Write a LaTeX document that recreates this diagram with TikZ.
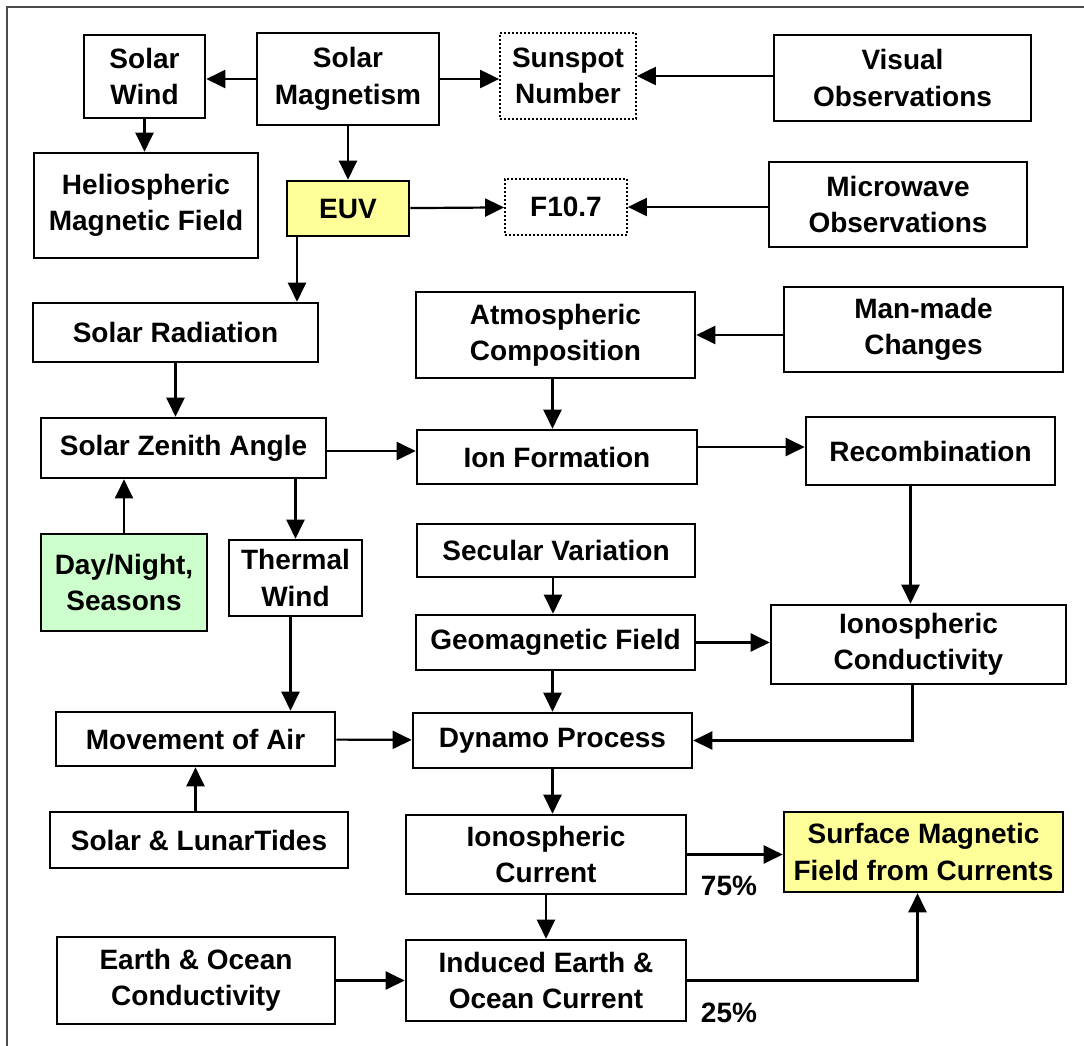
\documentclass[tikz,border=0pt]{standalone}
\usepackage{fontspec}
\setmainfont{Liberation Sans}
\usepackage{xcolor}
\usepackage{tikz}
\usetikzlibrary{arrows.meta,positioning}
\definecolor{euvyel}{HTML}{FFFF99}
\definecolor{daygrn}{HTML}{CCFFCC}

\begin{document}
\begin{tikzpicture}[x=0.5pt, y=-0.5pt, font=\fontsize{14}{18.2}\selectfont\bfseries,
  box/.style={draw, line width=1.3pt, align=center, inner sep=0pt},
  dotbox/.style={box, line width=0.9pt, dash pattern=on 0.9pt off 1.1pt},
  arr/.style={-{Triangle[length=9.5pt, width=9pt]}, line width=1.1pt}]
\useasboundingbox (0,0) rectangle (1084,1046);
\draw[gray!60!black, line width=0.8pt] (1084,7) -- (7,7) -- (7,1046);
% sun
\node[box, minimum width=60.5pt, minimum height=41.5pt] (SW) at (144.5,76.5) {Solar\\Wind};
\node[box, minimum width=91pt, minimum height=46pt] (SM) at (348,79) {Solar\\Magnetism};
\node[dotbox, minimum width=68pt, minimum height=43pt] (SN) at (568,76) {Sunspot\\Number};
\node[box, minimum width=128.5pt, minimum height=43pt] (VO) at (902.5,78) {Visual\\Observations};
\node[box, minimum width=112pt, minimum height=52.5pt] (HM) at (146,205.5) {Heliospheric\\Magnetic Field};
\node[box, fill=euvyel, minimum width=61pt, minimum height=27.5pt] (EUV) at (348,208.5) {EUV};
\node[dotbox, minimum width=61pt, minimum height=28pt] (FX) at (566,207) {F10.7};
\node[box, minimum width=129pt, minimum height=42.5pt] (MO) at (898,204.5) {Microwave\\Observations};
% atmosphere
\node[box, minimum width=142.5pt, minimum height=29.5pt] (SR) at (175.5,332.5) {Solar Radiation};
\node[box, minimum width=139.5pt, minimum height=43pt] (AC) at (555.5,335) {Atmospheric\\Composition};
\node[box, minimum width=139.5pt, minimum height=42.5pt] (MC) at (923.5,329.5) {Man-made\\Changes};
\node[box, minimum width=142.5pt, minimum height=30pt] (SZ) at (183.5,448) {Solar Zenith Angle};
\node[box, minimum width=140pt, minimum height=27pt] (IF) at (557,457) {Ion Formation};
\node[box, minimum width=124.5pt, minimum height=34pt] (RC) at (930.5,451) {Recombination};
\node[box, fill=daygrn, minimum width=83pt, minimum height=48.5pt] (DN) at (124,582.5) {Day/Night,\\Seasons};
\node[box, minimum width=66.5pt, minimum height=38pt] (TW) at (295.5,578) {Thermal\\Wind};
\node[box, minimum width=139pt, minimum height=26.5pt] (SV) at (556,550.5) {Secular Variation};
\node[box, minimum width=139.5pt, minimum height=27.5pt] (GF) at (555.5,642.5) {Geomagnetic Field};
\node[box, minimum width=147.5pt, minimum height=39.5pt] (IC) at (918.5,644.5) {Ionospheric\\Conductivity};
% currents
\node[box, minimum width=139.5pt, minimum height=27pt] (MA) at (195.5,739) {Movement of Air};
\node[box, minimum width=139.5pt, minimum height=27.5pt] (DP) at (552.5,740.5) {Dynamo Process};
\node[box, minimum width=149pt, minimum height=28pt] (ST) at (199,840) {Solar \& LunarTides};
\node[box, minimum width=140pt, minimum height=39.5pt] (IO) at (546,854.5) {Ionospheric\\Current};
\node[box, fill=euvyel, minimum width=139.5pt, minimum height=40pt] (SF) at (923.5,852) {Surface Magnetic\\Field from Currents};
\node[box, minimum width=139pt, minimum height=43.5pt] (EC) at (196,980.5) {Earth \& Ocean\\Conductivity};
\node[box, minimum width=140pt, minimum height=40.5pt] (IE) at (546,980.5) {Induced Earth \&\\Ocean Current};
\node (P75) at (729,886) {75\%};
\node (P25) at (729,1013) {25\%};
% arrows
\draw[arr] (SM.west) -- (SM.west -| SW.east);
\draw[arr] (SM.east) -- (SM.east -| SN.west);
\draw[arr] (VO.west |- SN) -- (SN);
\draw[arr] (SW) -- (SW |- HM.north);
\draw[arr] (SM) -- (EUV);
\draw[arr] (EUV) -- (FX);
\draw[arr] (MO.west |- FX) -- (FX);
\draw[arr] ([xshift=-25.5pt]EUV.south) -- ([xshift=-25.5pt]EUV.south |- SR.north);
\draw[arr] (SR) -- (SR |- SZ.north);
\draw[arr] (DN) -- (DN |- SZ.south);
\draw[arr] (TW |- SZ.south) -- (TW);
\draw[arr] ([yshift=-1.5pt]SZ.east) -- ([yshift=-1.5pt]SZ.east -| IF.west);
\draw[arr] (MC.west |- AC) -- (AC);
\draw[arr] ([xshift=-1.5pt]AC.south) -- ([xshift=-1.5pt]AC.south |- IF.north);
\draw[arr] ([yshift=5pt]IF.east) -- ([yshift=5pt]IF.east -| RC.west);
\draw[arr] ([xshift=-10pt]RC.south) -- ([xshift=-10pt]RC.south |- IC.north);
\draw[arr] ([xshift=-1.5pt]SV.south) -- ([xshift=-1.5pt]SV.south |- GF.north);
\draw[arr] (GF) -- (GF -| IC.west);
\draw[arr] (DP |- GF.south) -- (DP);
\draw[arr] ([xshift=-3pt]IC.south) |- (DP.east);
\draw[arr] ([xshift=-2.5pt]TW.south) -- ([xshift=-2.5pt]TW.south |- MA.north);
\draw[arr] (MA |- ST.north) -- (MA);
\draw[arr] (MA) -- (DP);
\draw[arr] (DP) -- (DP |- IO.north);
\draw[arr] (IO) -- (IO -| SF.west);
\draw[arr] (IO) -- (IE);
\draw[arr] (EC) -- (IE);
\draw[arr] (IE.east) -| ([xshift=-3pt]SF.south);
\end{tikzpicture}
\end{document}
